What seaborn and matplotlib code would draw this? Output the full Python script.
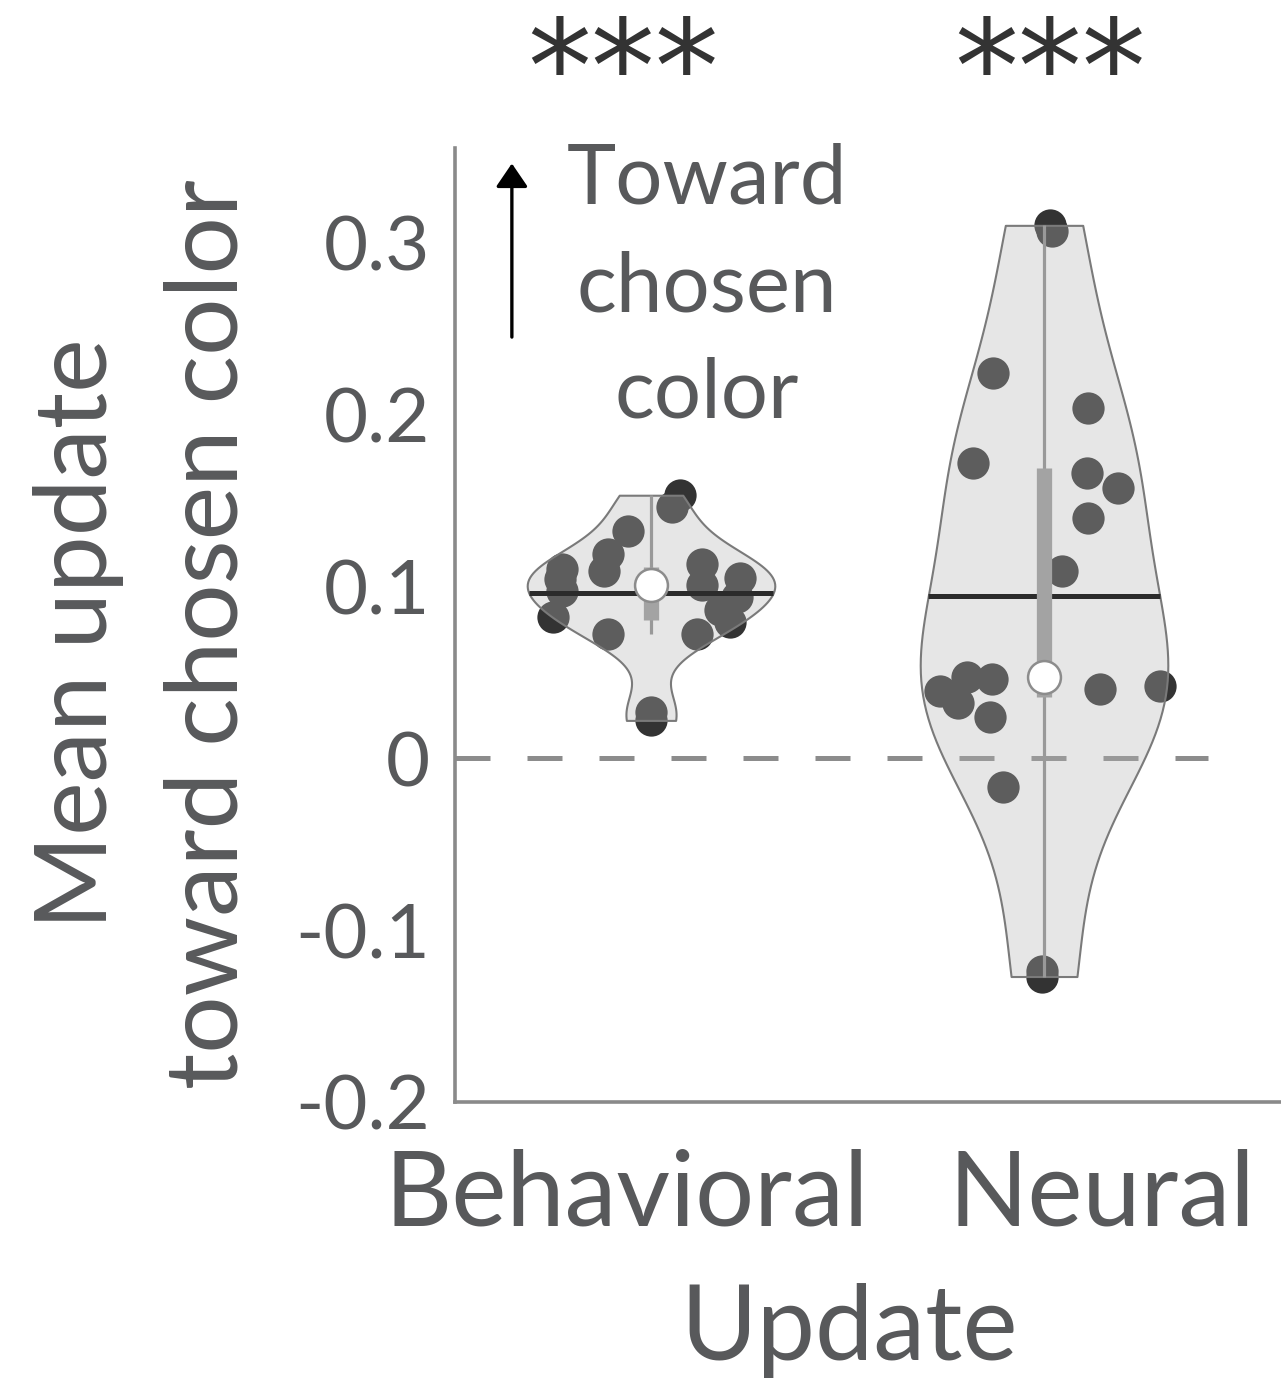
import matplotlib
matplotlib.use("Agg")
import matplotlib.pyplot as plt
import numpy as np
import pandas as pd
import seaborn as sns

# ---- data -------------------------------------------------------------
categories = ["Behavioral", "Neural"]

behavioral_update = [0.153, 0.146, 0.132, 0.119, 0.109, 0.110, 0.104, 0.097, 0.082,
                     0.072, 0.113, 0.101, 0.105, 0.094, 0.086, 0.072, 0.079, 0.027, 0.022]
neural_update = [0.310, 0.307, 0.224, 0.204, 0.172, 0.166, 0.157, 0.140, 0.109,
                 0.039, 0.047, 0.046, 0.032, 0.024, 0.040, 0.042, -0.017,
                 -0.124, -0.127]

# horizontal spread of each subject's dot (in category units)
behavioral_jitter = [0.074, 0.053, -0.059, -0.109, -0.120, -0.226, -0.232, -0.226, -0.249,
                     -0.109, 0.130, 0.130, 0.226, 0.219, 0.176, 0.117, 0.201, 0.0, 0.0]
neural_jitter = [0.015, 0.020, -0.130, 0.112, -0.181, 0.109, 0.188, 0.112, 0.046,
                 -0.265, -0.196, -0.132, -0.219, -0.137, 0.142, 0.295, -0.104,
                 -0.005, -0.005]

significance = ["***", "***"]
y_ticks = [-0.2, -0.1, 0.0, 0.1, 0.2, 0.3]
y_tick_labels = ["-0.2", "-0.1", "0", "0.1", "0.2", "0.3"]

values = {"Behavioral": behavioral_update, "Neural": neural_update}
jitters = {"Behavioral": behavioral_jitter, "Neural": neural_jitter}
bandwidth = {"Behavioral": 0.85, "Neural": 0.9}

df = pd.DataFrame({
    "Update": [c for c in categories for _ in values[c]],
    "value": [v for c in categories for v in values[c]],
})

# ---- style ------------------------------------------------------------
sns.set_style("white")
plt.rcParams["font.family"] = ["Lato", "DejaVu Sans"]
TEXT = "#58595b"
AXIS = "#8a8a8a"

W, H = 1281, 1383
fig = plt.figure(figsize=(W / 100, H / 100), dpi=100)


def fx(px):
    return px / W


def fy(py):
    return 1 - py / H


ax = fig.add_axes([fx(455), fy(1102), 1 - fx(455), fy(148) - fy(1102)])

# ---- dots (under the translucent violins) ------------------------------
for i, cat in enumerate(categories):
    ax.scatter(i + np.asarray(jitters[cat]), values[cat], s=540, color="#333333",
               linewidths=0, zorder=2)

# ---- violins ------------------------------------------------------------
polys = {}
for cat in categories:
    before = list(ax.collections)
    sns.violinplot(data=df[df["Update"] == cat], x="Update", y="value", order=categories,
                   cut=0, density_norm="width", width=0.63, inner=None,
                   bw_adjust=bandwidth[cat], color="#b4b4b4", linewidth=1.5,
                   saturation=1, ax=ax)
    new = [c for c in ax.collections if c not in before]
    poly = new[0]
    poly.set_facecolor((0.706, 0.706, 0.706, 0.33))
    poly.set_edgecolor("#7a7a7a")
    poly.set_linewidth(1.5)
    poly.set_zorder(3)
    polys[cat] = poly


def violin_edges(poly, pos, y):
    v = poly.get_paths()[0].vertices
    left = v[v[:, 0] < pos - 1e-9]
    right = v[v[:, 0] > pos + 1e-9]
    lo = left[np.argsort(left[:, 1])]
    ro = right[np.argsort(right[:, 1])]
    return np.interp(y, lo[:, 1], lo[:, 0]), np.interp(y, ro[:, 1], ro[:, 0])


# ---- summary marks: mean, whiskers, IQR, median --------------------------
for i, cat in enumerate(categories):
    d = np.asarray(values[cat])
    q1, med, q3 = np.percentile(d, [25, 50, 75])
    iqr = q3 - q1
    lo_w = d[d >= q1 - 1.5 * iqr].min()
    hi_w = d[d <= q3 + 1.5 * iqr].max()
    mean = d.mean()
    xl, xr = violin_edges(polys[cat], i, mean)
    ax.plot([xl, xr], [mean, mean], color="#2b2b2b", lw=3.6, zorder=4,
            solid_capstyle="butt")
    ax.plot([i, i], [lo_w, hi_w], color="#999999", lw=2.3, zorder=5,
            solid_capstyle="butt")
    ax.plot([i, i], [q1, q3], color="#a3a3a3", lw=11, zorder=5,
            solid_capstyle="butt")
    ax.scatter([i], [med], s=560, color="white", edgecolors="#8c8c8c",
               linewidths=1.8, zorder=6)

# zero reference line
ax.axhline(0, xmin=0, xmax=0.912, color="#8c8c8c", lw=3.6, dashes=(7, 7.4), zorder=1)

# ---- axes ---------------------------------------------------------------
ax.set_xlim(-0.4987, 1.603)
ax.set_ylim(-0.2, 0.355)
ax.set_xlabel("")
ax.set_ylabel("")
ax.set_yticks(y_ticks, y_tick_labels)
ax.set_xticks([0.038, 1.092], ["", ""])
for s in ("top", "right"):
    ax.spines[s].set_visible(False)
for s in ("left", "bottom"):
    ax.spines[s].set_color(AXIS)
    ax.spines[s].set_linewidth(2.6)
ax.tick_params(axis="both", direction="in", length=8, width=1.4, color=AXIS)
ax.tick_params(axis="y", labelsize=55, labelcolor=TEXT, pad=18)
ax.patch.set_alpha(0)

# category names and axis titles
fig.text(fx(627), fy(1225), categories[0], ha="center", va="baseline",
         fontsize=75, color=TEXT)
fig.text(fx(1102), fy(1225), categories[1], ha="center", va="baseline",
         fontsize=75, color=TEXT)
fig.text(fx(849), fy(1360), "Update", ha="center", va="baseline",
         fontsize=75, color=TEXT)
fig.text(fx(107), fy(634), "Mean update", rotation=90, rotation_mode="anchor",
         ha="center", va="baseline", fontsize=73, color=TEXT)
fig.text(fx(237), fy(634), "toward chosen color", rotation=90, rotation_mode="anchor",
         ha="center", va="baseline", fontsize=73, color=TEXT)

# significance stars
for xc, star in zip([623, 1050], significance):
    fig.text(fx(xc), fy(112), star, ha="center", va="baseline", fontsize=92,
             color="#333333", family="DejaVu Sans")

# direction hint
ax.annotate("", xy=(-0.354, 0.346), xytext=(-0.354, 0.245),
            arrowprops=dict(arrowstyle="-|>,head_length=0.72,head_width=0.49",
                            mutation_scale=20, color="black", lw=2.4,
                            shrinkA=0, shrinkB=0))
for py, line in zip([203, 312, 418], ["Toward", "chosen", "color"]):
    fig.text(fx(707), fy(py), line, ha="center", va="baseline", fontsize=60, color=TEXT)

fig.savefig("out.png", dpi=100)
